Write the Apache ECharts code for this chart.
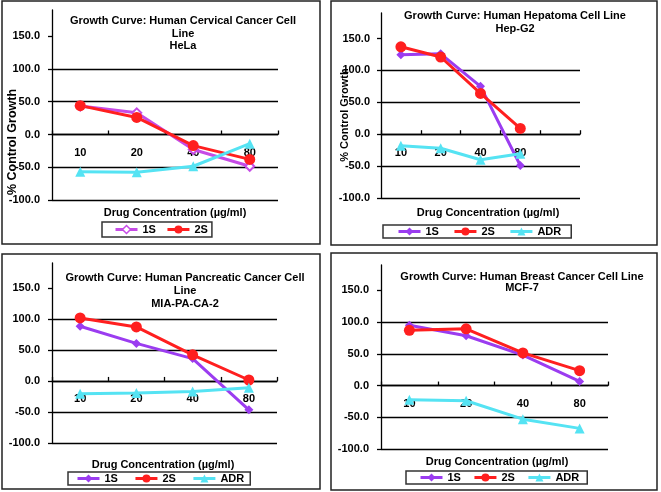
<!DOCTYPE html>
<html><head><meta charset="utf-8">
<script src="https://cdn.jsdelivr.net/npm/echarts@6/dist/echarts.min.js"></script>
<style>html,body{margin:0;padding:0;background:#fff}#c{width:661px;height:492px}</style>
</head><body><div id="c"></div>
<script>
// ---------- data ----------
const categories = ['10', '20', '40', '80'];
const categoriesHepG2 = ['10', '20', '40', '80', ''];
const yTicks = [-100, -50, 0, 50, 100, 150];

const hela1S = [43.5, 33, -23, -48.5];
const hela2S = [44, 26, -17, -38];
const helaADR = [-57, -57.5, -48.5, -14];

const hepg2_1S = [124.5, 126, 75, -49];
const hepg2_2S = [137, 121, 64, 9];
const hepg2ADR = [-18, -22, -40, -30.5];

const mia1S = [88, 60.5, 36, -46.5];
const mia2S = [101.5, 87, 42, 1.5];
const miaADR = [-20.5, -19.5, -17, -11];

const mcf1S = [95, 78.5, 48, 6.5];
const mcf2S = [87, 89.5, 51.5, 23.5];
const mcfADR = [-22.5, -24, -53, -67.5];

const titleHela = 'Growth Curve: Human Cervical Cancer Cell\nLine\nHeLa';
const titleHepG2 = 'Growth Curve: Human Hepatoma Cell Line\nHep-G2';
const titleMia = 'Growth Curve: Human Pancreatic Cancer Cell\nLine\nMIA-PA-CA-2';
const titleMcf = 'Growth Curve: Human Breast Cancer Cell Line\nMCF-7';
const xName = 'Drug Concentration (\u00b5g/ml)';
const yName = '% Control Growth';

// ---------- styles ----------
const FONT = "'Liberation Sans', Arial, sans-serif";
const C1S_HELA = '#C64BE6';
const C1S = '#9B3CF0';
const C2S = '#FF1F1F';
const CADR = '#55E3F3';
const BLACK = '#000';
const Y_MIN = -100, Y_MAX = 190;

const grids = [
  {left: 52, top: 10, width: 226, height: 190},
  {left: 381, top: 13, width: 199, height: 185},
  {left: 52, top: 263, width: 225, height: 180},
  {left: 381, top: 265, width: 227, height: 184}
];

function yAx(gi, margin) {
  return {
    type: 'value', gridIndex: gi, min: Y_MIN, max: Y_MAX, interval: 50,
    axisLine: {show: true, lineStyle: {color: BLACK, width: 1.3}},
    axisTick: {show: true, length: 4, customValues: yTicks, lineStyle: {color: BLACK, width: 1.3}},
    axisLabel: {customValues: yTicks, formatter: v => (v % 50 === 0 ? v.toFixed(1) : ''),
      fontSize: 11, fontWeight: 'bold', color: BLACK, fontFamily: FONT, margin: margin},
    splitLine: {show: true, showMaxLine: false, lineStyle: {color: BLACK, width: 1.3}}
  };
}
// x axis sits on the value 0 line of its grid
function xAx(gi, cats) {
  const zeroOffset = -grids[gi].height * (0 - Y_MIN) / (Y_MAX - Y_MIN);
  return {
    type: 'category', gridIndex: gi, data: cats, position: 'bottom', offset: zeroOffset,
    axisLine: {onZero: false, lineStyle: {color: BLACK, width: 1.3}},
    axisTick: {show: true, inside: true, length: 4, lineStyle: {color: BLACK, width: 1.3}},
    axisLabel: {margin: 13, fontSize: 11, fontWeight: 'bold', color: BLACK, fontFamily: FONT},
    splitLine: {show: false}
  };
}
function ser(name, gi, data, color, symbol, size) {
  return {
    name: name, type: 'line', xAxisIndex: gi, yAxisIndex: gi, data: data,
    symbol: symbol, symbolSize: size, showSymbol: true,
    lineStyle: {color: color, width: 3},
    itemStyle: {color: color, borderWidth: symbol.indexOf('empty') === 0 ? 1.5 : 0},
    emphasis: {disabled: true}
  };
}
function legendItem(name, color, hollow) {
  return {
    name: name,
    itemStyle: hollow ? {color: '#fff', borderColor: color, borderWidth: 1.5} : {color: color, borderWidth: 0},
    lineStyle: {color: color, width: 3, type: 'solid'}
  };
}
const legendCommon = {
  orient: 'horizontal', itemWidth: 22, itemHeight: 10,
  borderColor: '#333', borderWidth: 1.5, borderRadius: 0,
  textStyle: {fontSize: 11, fontWeight: 'bold', color: BLACK, fontFamily: FONT}
};
const titleStyle = (lh) => ({fontSize: 11, fontWeight: 'bold', color: BLACK, fontFamily: FONT, lineHeight: lh});
const nameStyle = {fontSize: 11, fontWeight: 'bold', fill: BLACK, fontFamily: FONT, align: 'center', verticalAlign: 'middle'};

const option = {
  animation: false,
  backgroundColor: '#fff',
  textStyle: {fontFamily: FONT},
  title: [
    {text: titleHela, left: 183, top: 15, textAlign: 'center', padding: 0, textStyle: titleStyle(12.5)},
    {text: titleHepG2, left: 515, top: 9, textAlign: 'center', padding: 0, textStyle: titleStyle(13.3)},
    {text: titleMia, left: 185, top: 271.5, textAlign: 'center', padding: 0, textStyle: titleStyle(13)},
    {text: titleMcf, left: 522, top: 271, textAlign: 'center', padding: 0, textStyle: titleStyle(11.6)}
  ],
  grid: grids,
  xAxis: [xAx(0, categories), xAx(1, categoriesHepG2), xAx(2, categories), xAx(3, categories)],
  yAxis: [yAx(0, 12), yAx(1, 11), yAx(2, 12), yAx(3, 12)],
  legend: [
    Object.assign({}, legendCommon, {left: 102, top: 222, padding: [2, 4, 2, 12], itemGap: 10,
      data: [legendItem('1S', C1S_HELA, true), legendItem('2S', C2S)]}),
    Object.assign({}, legendCommon, {left: 383, top: 225, padding: [1, 10, 1, 14], itemGap: 14,
      data: [legendItem('1S', C1S), legendItem('2S', C2S), legendItem('ADR', CADR)]}),
    Object.assign({}, legendCommon, {left: 68, top: 472, padding: [1, 6, 1, 8], itemGap: 16,
      data: [legendItem('1S', C1S), legendItem('2S', C2S), legendItem('ADR', CADR)]}),
    Object.assign({}, legendCommon, {left: 406, top: 471, padding: [1, 8, 1, 13], itemGap: 12,
      data: [legendItem('1S', C1S), legendItem('2S', C2S), legendItem('ADR', CADR)]})
  ],
  series: [
    ser('1S', 1, hepg2_1S, C1S, 'diamond', 9),
    ser('2S', 1, hepg2_2S, C2S, 'circle', 11),
    ser('ADR', 1, hepg2ADR, CADR, 'triangle', 10),
    ser('1S', 2, mia1S, C1S, 'diamond', 9),
    ser('2S', 2, mia2S, C2S, 'circle', 11),
    ser('ADR', 2, miaADR, CADR, 'triangle', 10),
    ser('1S', 3, mcf1S, C1S, 'diamond', 9),
    ser('2S', 3, mcf2S, C2S, 'circle', 11),
    ser('ADR', 3, mcfADR, CADR, 'triangle', 10),
    ser('1S', 0, hela1S, C1S_HELA, 'emptyDiamond', 9),
    ser('2S', 0, hela2S, C2S, 'circle', 11),
    ser('ADR', 0, helaADR, CADR, 'triangle', 10)
  ],
  graphic: [
    {type: 'rect', silent: true, shape: {x: 2, y: 1, width: 318, height: 243}, style: {fill: 'none', stroke: '#222', lineWidth: 1.5}},
    {type: 'rect', silent: true, shape: {x: 331, y: 1, width: 326, height: 244}, style: {fill: 'none', stroke: '#222', lineWidth: 1.5}},
    {type: 'rect', silent: true, shape: {x: 2, y: 254, width: 318, height: 235}, style: {fill: 'none', stroke: '#222', lineWidth: 1.5}},
    {type: 'rect', silent: true, shape: {x: 331, y: 253, width: 326, height: 237}, style: {fill: 'none', stroke: '#222', lineWidth: 1.5}},
    {type: 'text', silent: true, x: 175, y: 213, style: Object.assign({text: xName}, nameStyle)},
    {type: 'text', silent: true, x: 488, y: 213, style: Object.assign({text: xName}, nameStyle)},
    {type: 'text', silent: true, x: 163, y: 465, style: Object.assign({text: xName}, nameStyle)},
    {type: 'text', silent: true, x: 497, y: 462, style: Object.assign({text: xName}, nameStyle)},
    {type: 'text', silent: true, x: 13, y: 142, rotation: Math.PI / 2, style: Object.assign({text: yName}, nameStyle, {fontSize: 12.5})},
    {type: 'text', silent: true, x: 345, y: 115, rotation: Math.PI / 2, style: Object.assign({text: yName}, nameStyle)}
  ]
};
const chart = echarts.init(document.getElementById('c'), null, {renderer: 'canvas'});
chart.setOption(option);
</script>
</body></html>
